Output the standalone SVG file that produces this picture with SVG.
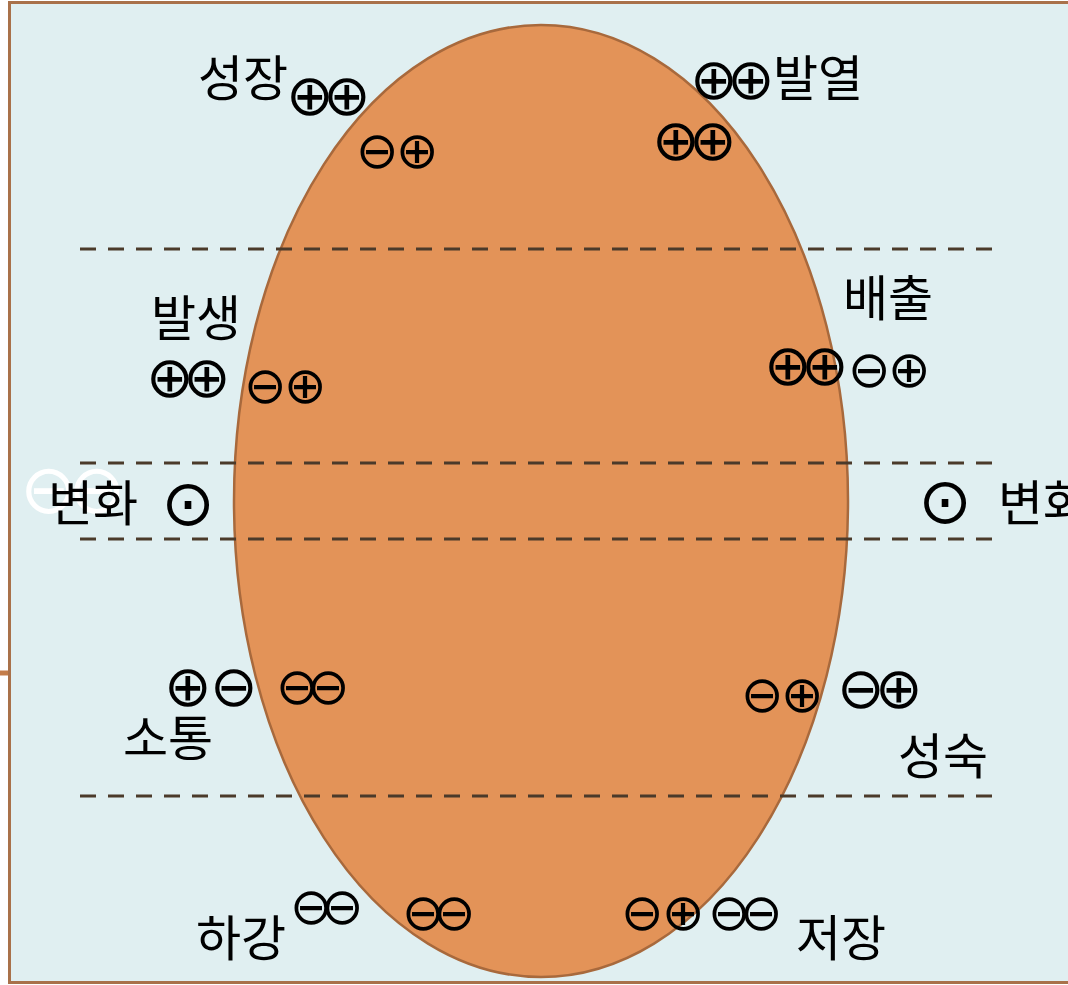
<svg xmlns="http://www.w3.org/2000/svg" width="1068" height="985" viewBox="0 0 1068 985">
<style>
.lbl{font-family:"Noto Sans CJK KR","Noto Sans",sans-serif;font-size:49px;fill:#000}
.sym{font-family:"DejaVu Sans",sans-serif;fill:#000;text-anchor:middle}
.big{font-size:57px}
.sm{font-size:51px}
.dot{font-size:64px}
.dash{stroke:#4b3a2a;stroke-width:3;stroke-dasharray:16 12;fill:none}
</style>
<g id="frame">
<line x1="0" y1="673" x2="9" y2="673" stroke="#c47d4a" stroke-width="5"/>
<rect x="9.5" y="2.5" width="1075" height="980" fill="#e0eff1" stroke="#a9714a" stroke-width="3"/>
</g>
<g id="ellipse">
<ellipse cx="541" cy="501" rx="307" ry="476" fill="#e39358" stroke="#a8693c" stroke-width="2.5"/>
</g>
<g id="connectors">
<line class="dash" x1="80" y1="249" x2="993" y2="249"/>
<line class="dash" x1="80" y1="463" x2="993" y2="463"/>
<line class="dash" x1="80" y1="539" x2="993" y2="539"/>
<line class="dash" x1="80" y1="796" x2="993" y2="796"/>
</g>
<g id="ghost">
<text class="sym" x="49 97" y="513" font-size="69" style="fill:#ffffff">⊖⊖</text>
</g>
<g id="n-growth">
<text class="lbl" x="198" y="96">성장</text>
<text class="sym big" x="310 347" y="115">⊕⊕</text>
<text class="sym sm" x="377 417" y="168">⊖⊕</text>
</g>
<g id="n-heat">
<text class="lbl" x="773" y="96">발열</text>
<text class="sym big" x="714 751" y="99">⊕⊕</text>
<text class="sym big" x="676 713" y="160">⊕⊕</text>
</g>
<g id="n-origin">
<text class="lbl" x="151" y="336">발생</text>
<text class="sym big" x="170 207" y="397">⊕⊕</text>
<text class="sym sm" x="265 305" y="403">⊖⊕</text>
</g>
<g id="n-emit">
<text class="lbl" x="843" y="316">배출</text>
<text class="sym big" x="788 825" y="385">⊕⊕</text>
<text class="sym sm" x="869 909" y="387">⊖⊕</text>
</g>
<g id="n-change-left">
<text class="lbl" x="48" y="521">변화</text>
<text class="sym dot" x="188" y="525">⊙</text>
</g>
<g id="n-change-right">
<text class="lbl" x="998" y="521">변화</text>
<text class="sym dot" x="945" y="523">⊙</text>
</g>
<g id="n-comm">
<text class="lbl" x="123" y="756">소통</text>
<text class="sym big" x="188 234" y="706">⊕⊖</text>
<text class="sym sm" x="297 328" y="704">⊖⊖</text>
</g>
<g id="n-mature">
<text class="lbl" x="898" y="774">성숙</text>
<text class="sym sm" x="762 802" y="712">⊖⊕</text>
<text class="sym big" x="861 899" y="708">⊖⊕</text>
</g>
<g id="n-descent">
<text class="lbl" x="196" y="956">하강</text>
<text class="sym sm" x="311 342" y="924">⊖⊖</text>
<text class="sym sm" x="423 454" y="930">⊖⊖</text>
</g>
<g id="n-store">
<text class="lbl" x="796" y="956">저장</text>
<text class="sym sm" x="642 683" y="930">⊖⊕</text>
<text class="sym sm" x="729 761" y="930">⊖⊖</text>
</g>
</svg>
